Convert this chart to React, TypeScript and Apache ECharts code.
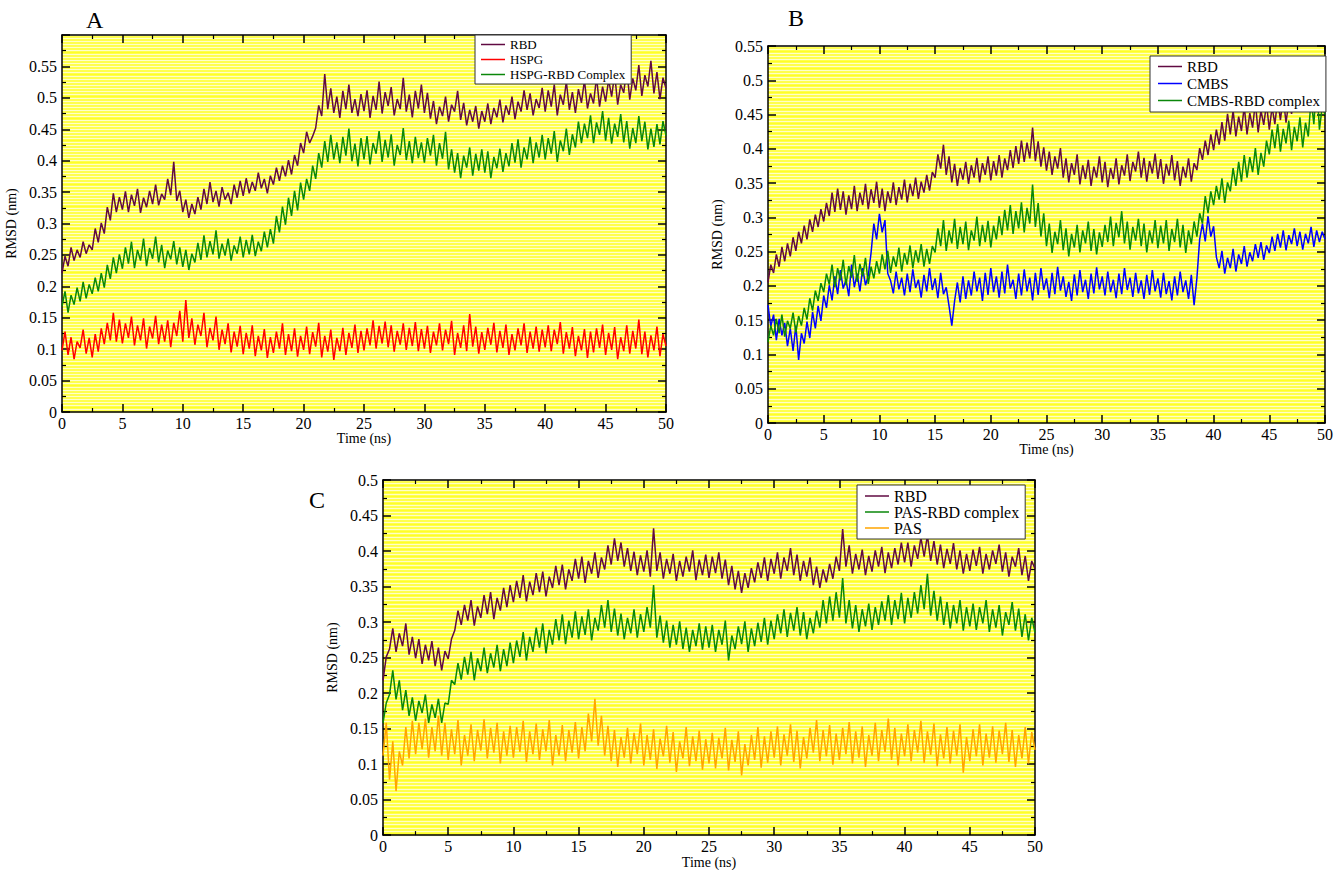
import React, { useEffect, useRef } from "react";
import * as echarts from "echarts";

// time axis: 0..50 ns every 0.25 ns
const timeNs: number[] = Array.from({ length: 201 }, (_, i) => i * 0.25);

// Panel A
const aRBD = [
  0.221, 0.248, 0.232, 0.262, 0.241, 0.258, 0.246, 0.271, 0.252, 0.266, 0.258, 0.292, 0.270, 0.301, 0.284, 0.326, 0.305, 0.348, 0.318, 0.342,
  0.322, 0.351, 0.318, 0.346, 0.328, 0.355, 0.317, 0.341, 0.326, 0.352, 0.331, 0.362, 0.329, 0.347, 0.338, 0.371, 0.345, 0.398, 0.336, 0.352,
  0.318, 0.338, 0.309, 0.331, 0.315, 0.342, 0.322, 0.355, 0.331, 0.366, 0.334, 0.352, 0.327, 0.358, 0.338, 0.349, 0.331, 0.362, 0.341, 0.368,
  0.344, 0.372, 0.348, 0.366, 0.352, 0.381, 0.356, 0.371, 0.348, 0.376, 0.362, 0.389, 0.368, 0.392, 0.375, 0.401, 0.378, 0.409, 0.392, 0.428,
  0.412, 0.446, 0.428, 0.439, 0.452, 0.488, 0.471, 0.538, 0.482, 0.515, 0.476, 0.502, 0.468, 0.511, 0.482, 0.521, 0.476, 0.498, 0.471, 0.506,
  0.479, 0.512, 0.468, 0.503, 0.481, 0.526, 0.475, 0.509, 0.487, 0.517, 0.472, 0.498, 0.482, 0.532, 0.478, 0.505, 0.469, 0.511, 0.483, 0.521,
  0.476, 0.508, 0.467, 0.495, 0.458, 0.486, 0.471, 0.502, 0.462, 0.489, 0.478, 0.511, 0.465, 0.492, 0.456, 0.481, 0.462, 0.487, 0.451, 0.479,
  0.462, 0.491, 0.458, 0.484, 0.469, 0.497, 0.461, 0.488, 0.473, 0.502, 0.466, 0.494, 0.478, 0.512, 0.481, 0.507, 0.472, 0.498, 0.484, 0.516,
  0.478, 0.512, 0.486, 0.521, 0.472, 0.505, 0.489, 0.526, 0.481, 0.509, 0.476, 0.514, 0.492, 0.528, 0.483, 0.507, 0.491, 0.533, 0.486, 0.518,
  0.494, 0.529, 0.502, 0.538, 0.489, 0.521, 0.508, 0.547, 0.497, 0.531, 0.512, 0.552, 0.503, 0.536, 0.518, 0.559, 0.507, 0.541, 0.498, 0.532,
  0.515,
];
const aHSPG = [
  0.098, 0.128, 0.091, 0.119, 0.084, 0.112, 0.102, 0.131, 0.093, 0.118, 0.087, 0.124, 0.096, 0.133, 0.108, 0.142, 0.114, 0.158, 0.112, 0.147,
  0.109, 0.141, 0.118, 0.152, 0.106, 0.138, 0.114, 0.149, 0.101, 0.136, 0.117, 0.153, 0.108, 0.139, 0.112, 0.146, 0.103, 0.142, 0.121, 0.161,
  0.112, 0.178, 0.118, 0.149, 0.107, 0.139, 0.121, 0.158, 0.103, 0.134, 0.114, 0.152, 0.099, 0.131, 0.108, 0.141, 0.095, 0.128, 0.104, 0.137,
  0.092, 0.126, 0.101, 0.138, 0.089, 0.121, 0.098, 0.132, 0.086, 0.119, 0.094, 0.128, 0.101, 0.141, 0.091, 0.124, 0.097, 0.133, 0.088, 0.121,
  0.099, 0.136, 0.092, 0.127, 0.104, 0.142, 0.087, 0.121, 0.096, 0.131, 0.083, 0.118, 0.097, 0.134, 0.091, 0.126, 0.102, 0.139, 0.094, 0.129,
  0.098, 0.133, 0.106, 0.146, 0.101, 0.137, 0.109, 0.144, 0.103, 0.138, 0.096, 0.129, 0.107, 0.141, 0.099, 0.134, 0.105, 0.143, 0.097, 0.132,
  0.101, 0.137, 0.094, 0.128, 0.106, 0.141, 0.098, 0.131, 0.108, 0.145, 0.091, 0.126, 0.102, 0.138, 0.097, 0.156, 0.104, 0.136, 0.093, 0.127,
  0.099, 0.134, 0.107, 0.142, 0.095, 0.129, 0.102, 0.139, 0.091, 0.124, 0.098, 0.133, 0.106, 0.141, 0.094, 0.128, 0.101, 0.136, 0.096, 0.131,
  0.103, 0.138, 0.097, 0.131, 0.108, 0.143, 0.093, 0.127, 0.101, 0.135, 0.089, 0.121, 0.098, 0.132, 0.086, 0.128, 0.095, 0.133, 0.102, 0.139,
  0.091, 0.126, 0.099, 0.135, 0.084, 0.119, 0.097, 0.138, 0.093, 0.129, 0.101, 0.147, 0.092, 0.128, 0.087, 0.122, 0.098, 0.136, 0.089, 0.124,
  0.105,
];
const aComplex = [
  0.168, 0.192, 0.158, 0.186, 0.171, 0.198, 0.176, 0.207, 0.181, 0.203, 0.188, 0.214, 0.192, 0.221, 0.198, 0.234, 0.212, 0.246, 0.221, 0.251,
  0.228, 0.262, 0.236, 0.271, 0.229, 0.258, 0.241, 0.276, 0.232, 0.261, 0.244, 0.279, 0.238, 0.266, 0.229, 0.257, 0.243, 0.272, 0.235, 0.262,
  0.231, 0.258, 0.226, 0.252, 0.238, 0.269, 0.242, 0.281, 0.246, 0.272, 0.251, 0.289, 0.244, 0.268, 0.249, 0.276, 0.241, 0.265, 0.252, 0.279,
  0.246, 0.274, 0.251, 0.282, 0.248, 0.271, 0.256, 0.287, 0.262, 0.291, 0.268, 0.312, 0.286, 0.327, 0.298, 0.341, 0.312, 0.352, 0.321, 0.365,
  0.338, 0.371, 0.352, 0.392, 0.371, 0.412, 0.389, 0.431, 0.398, 0.441, 0.402, 0.429, 0.396, 0.438, 0.408, 0.451, 0.399, 0.427, 0.391, 0.436,
  0.402, 0.439, 0.394, 0.428, 0.411, 0.447, 0.398, 0.433, 0.405, 0.442, 0.392, 0.425, 0.409, 0.452, 0.401, 0.431, 0.396, 0.438, 0.404, 0.429,
  0.397, 0.436, 0.408, 0.441, 0.392, 0.428, 0.403, 0.446, 0.386, 0.418, 0.381, 0.412, 0.372, 0.408, 0.389, 0.421, 0.376, 0.411, 0.384, 0.418,
  0.381, 0.415, 0.372, 0.406, 0.388, 0.419, 0.382, 0.412, 0.391, 0.428, 0.397, 0.434, 0.389, 0.421, 0.402, 0.438, 0.396, 0.429, 0.405, 0.441,
  0.402, 0.436, 0.411, 0.447, 0.398, 0.432, 0.415, 0.451, 0.409, 0.442, 0.421, 0.462, 0.428, 0.459, 0.436, 0.472, 0.428, 0.461, 0.441, 0.479,
  0.432, 0.468, 0.427, 0.459, 0.438, 0.474, 0.429, 0.463, 0.419, 0.452, 0.428, 0.471, 0.431, 0.462, 0.418, 0.451, 0.422, 0.458, 0.426, 0.463,
  0.44,
];

// Panel B
const bRBD = [
  0.205, 0.231, 0.219, 0.246, 0.228, 0.257, 0.236, 0.262, 0.243, 0.271, 0.251, 0.279, 0.262, 0.288, 0.268, 0.297, 0.279, 0.304, 0.286, 0.312,
  0.294, 0.321, 0.302, 0.336, 0.308, 0.342, 0.311, 0.338, 0.304, 0.332, 0.312, 0.346, 0.309, 0.336, 0.318, 0.349, 0.312, 0.341, 0.321, 0.352,
  0.314, 0.342, 0.309, 0.338, 0.321, 0.351, 0.318, 0.344, 0.326, 0.355, 0.322, 0.349, 0.331, 0.358, 0.327, 0.352, 0.336, 0.362, 0.339, 0.366,
  0.358, 0.392, 0.371, 0.406, 0.362, 0.389, 0.351, 0.378, 0.346, 0.372, 0.355, 0.381, 0.349, 0.376, 0.358, 0.387, 0.351, 0.379, 0.362, 0.389,
  0.354, 0.382, 0.361, 0.391, 0.358, 0.386, 0.369, 0.398, 0.372, 0.404, 0.378, 0.412, 0.381, 0.409, 0.386, 0.431, 0.382, 0.411, 0.374, 0.402,
  0.368, 0.396, 0.362, 0.389, 0.371, 0.401, 0.358, 0.386, 0.351, 0.379, 0.362, 0.392, 0.348, 0.376, 0.356, 0.384, 0.346, 0.374, 0.358, 0.389,
  0.351, 0.381, 0.344, 0.372, 0.356, 0.386, 0.348, 0.376, 0.361, 0.392, 0.353, 0.381, 0.367, 0.396, 0.358, 0.387, 0.352, 0.382, 0.364, 0.393,
  0.356, 0.385, 0.349, 0.378, 0.361, 0.391, 0.354, 0.382, 0.346, 0.374, 0.358, 0.386, 0.352, 0.379, 0.369, 0.401, 0.384, 0.412, 0.391, 0.421,
  0.398, 0.428, 0.406, 0.439, 0.412, 0.451, 0.421, 0.456, 0.418, 0.447, 0.426, 0.462, 0.421, 0.452, 0.431, 0.468, 0.424, 0.456, 0.435, 0.466,
  0.428, 0.461, 0.436, 0.472, 0.442, 0.476, 0.438, 0.469, 0.451, 0.486, 0.462, 0.498, 0.471, 0.509, 0.478, 0.518, 0.486, 0.531, 0.492, 0.526,
  0.505,
];
const bCMBS = [
  0.172, 0.141, 0.158, 0.121, 0.152, 0.128, 0.146, 0.112, 0.138, 0.105, 0.142, 0.092, 0.131, 0.116, 0.148, 0.124, 0.162, 0.138, 0.171, 0.149,
  0.186, 0.168, 0.201, 0.179, 0.214, 0.188, 0.223, 0.196, 0.209, 0.185, 0.231, 0.198, 0.218, 0.192, 0.226, 0.201, 0.215, 0.248, 0.291, 0.268,
  0.305, 0.278, 0.296, 0.218, 0.208, 0.189, 0.221, 0.195, 0.212, 0.186, 0.218, 0.191, 0.224, 0.197, 0.209, 0.183, 0.216, 0.192, 0.226, 0.194,
  0.211, 0.182, 0.219, 0.188, 0.198, 0.171, 0.142, 0.178, 0.205, 0.176, 0.214, 0.181, 0.208, 0.186, 0.221, 0.192, 0.212, 0.178, 0.219, 0.187,
  0.226, 0.191, 0.214, 0.183, 0.221, 0.189, 0.231, 0.196, 0.209, 0.181, 0.218, 0.186, 0.224, 0.192, 0.212, 0.179, 0.219, 0.187, 0.226, 0.194,
  0.211, 0.182, 0.219, 0.188, 0.228, 0.193, 0.214, 0.184, 0.206, 0.178, 0.217, 0.186, 0.223, 0.191, 0.209, 0.181, 0.218, 0.189, 0.227, 0.195,
  0.214, 0.186, 0.221, 0.191, 0.209, 0.182, 0.218, 0.188, 0.226, 0.194, 0.212, 0.184, 0.219, 0.189, 0.208, 0.181, 0.216, 0.187, 0.223, 0.192,
  0.211, 0.183, 0.219, 0.188, 0.207, 0.179, 0.214, 0.186, 0.221, 0.191, 0.208, 0.181, 0.216, 0.172, 0.211, 0.268, 0.291, 0.265, 0.302, 0.272,
  0.287, 0.242, 0.226, 0.251, 0.218, 0.241, 0.226, 0.254, 0.221, 0.246, 0.232, 0.258, 0.228, 0.249, 0.236, 0.261, 0.241, 0.264, 0.238, 0.259,
  0.248, 0.272, 0.251, 0.276, 0.256, 0.281, 0.252, 0.274, 0.261, 0.284, 0.258, 0.279, 0.253, 0.276, 0.262, 0.286, 0.257, 0.281, 0.264, 0.279,
  0.268,
];
const bComplex = [
  0.118, 0.142, 0.128, 0.152, 0.131, 0.158, 0.126, 0.149, 0.138, 0.161, 0.132, 0.156, 0.142, 0.168, 0.151, 0.182, 0.164, 0.193, 0.178, 0.204,
  0.191, 0.218, 0.202, 0.231, 0.198, 0.226, 0.208, 0.238, 0.201, 0.229, 0.212, 0.245, 0.206, 0.232, 0.214, 0.241, 0.203, 0.228, 0.211, 0.236,
  0.218, 0.246, 0.224, 0.251, 0.219, 0.243, 0.228, 0.256, 0.221, 0.248, 0.231, 0.259, 0.226, 0.252, 0.234, 0.261, 0.228, 0.254, 0.232, 0.258,
  0.249, 0.284, 0.258, 0.296, 0.251, 0.281, 0.262, 0.298, 0.254, 0.286, 0.261, 0.294, 0.252, 0.281, 0.266, 0.301, 0.258, 0.289, 0.264, 0.295,
  0.256, 0.288, 0.268, 0.302, 0.274, 0.311, 0.281, 0.318, 0.276, 0.309, 0.284, 0.322, 0.278, 0.314, 0.291, 0.348, 0.286, 0.321, 0.272, 0.306,
  0.258, 0.291, 0.248, 0.279, 0.261, 0.296, 0.252, 0.284, 0.243, 0.276, 0.256, 0.289, 0.249, 0.281, 0.262, 0.294, 0.251, 0.283, 0.246, 0.278,
  0.257, 0.289, 0.264, 0.301, 0.258, 0.292, 0.271, 0.309, 0.262, 0.294, 0.253, 0.286, 0.266, 0.298, 0.258, 0.291, 0.249, 0.281, 0.262, 0.296,
  0.255, 0.288, 0.262, 0.296, 0.251, 0.283, 0.264, 0.298, 0.256, 0.289, 0.248, 0.281, 0.261, 0.294, 0.272, 0.306, 0.291, 0.331, 0.306, 0.338,
  0.318, 0.346, 0.326, 0.357, 0.321, 0.351, 0.338, 0.372, 0.346, 0.381, 0.352, 0.391, 0.358, 0.388, 0.366, 0.401, 0.362, 0.394, 0.374, 0.412,
  0.392, 0.428, 0.401, 0.436, 0.396, 0.429, 0.408, 0.441, 0.398, 0.432, 0.411, 0.446, 0.402, 0.438, 0.418, 0.472, 0.436, 0.498, 0.428, 0.461,
  0.45,
];

// Panel C
const cRBD = [
  0.218, 0.251, 0.262, 0.291, 0.258, 0.284, 0.266, 0.298, 0.254, 0.279, 0.249, 0.276, 0.241, 0.268, 0.246, 0.273, 0.238, 0.264, 0.232, 0.259,
  0.248, 0.276, 0.288, 0.316, 0.296, 0.324, 0.302, 0.331, 0.295, 0.322, 0.306, 0.338, 0.311, 0.342, 0.304, 0.334, 0.316, 0.348, 0.321, 0.352,
  0.328, 0.358, 0.334, 0.366, 0.329, 0.357, 0.338, 0.369, 0.342, 0.371, 0.336, 0.364, 0.348, 0.379, 0.352, 0.381, 0.346, 0.374, 0.358, 0.389,
  0.361, 0.392, 0.355, 0.386, 0.368, 0.398, 0.362, 0.391, 0.374, 0.408, 0.381, 0.418, 0.386, 0.412, 0.378, 0.404, 0.372, 0.399, 0.366, 0.394,
  0.371, 0.401, 0.364, 0.432, 0.372, 0.398, 0.361, 0.389, 0.368, 0.396, 0.358, 0.386, 0.364, 0.392, 0.371, 0.401, 0.359, 0.388, 0.366, 0.395,
  0.362, 0.392, 0.369, 0.398, 0.361, 0.388, 0.352, 0.379, 0.346, 0.372, 0.341, 0.369, 0.348, 0.376, 0.356, 0.384, 0.362, 0.391, 0.358, 0.389,
  0.368, 0.398, 0.361, 0.391, 0.372, 0.404, 0.366, 0.395, 0.358, 0.386, 0.364, 0.391, 0.352, 0.378, 0.348, 0.374, 0.356, 0.382, 0.361, 0.392,
  0.372, 0.431, 0.378, 0.408, 0.368, 0.396, 0.374, 0.402, 0.366, 0.393, 0.371, 0.401, 0.378, 0.406, 0.369, 0.398, 0.376, 0.404, 0.381, 0.412,
  0.384, 0.412, 0.378, 0.408, 0.389, 0.419, 0.392, 0.422, 0.386, 0.414, 0.381, 0.409, 0.376, 0.403, 0.382, 0.411, 0.374, 0.401, 0.368, 0.396,
  0.372, 0.402, 0.379, 0.406, 0.368, 0.396, 0.374, 0.401, 0.382, 0.409, 0.371, 0.398, 0.364, 0.392, 0.378, 0.404, 0.366, 0.393, 0.358, 0.386,
  0.375,
];
const cComplex = [
  0.158, 0.186, 0.198, 0.232, 0.191, 0.218, 0.176, 0.204, 0.168, 0.194, 0.161, 0.189, 0.172, 0.198, 0.158, 0.184, 0.165, 0.192, 0.158, 0.186,
  0.184, 0.218, 0.212, 0.242, 0.219, 0.251, 0.226, 0.258, 0.218, 0.249, 0.231, 0.264, 0.228, 0.256, 0.236, 0.268, 0.231, 0.262, 0.238, 0.271,
  0.242, 0.274, 0.251, 0.286, 0.246, 0.279, 0.258, 0.292, 0.264, 0.298, 0.256, 0.289, 0.268, 0.304, 0.274, 0.311, 0.269, 0.302, 0.278, 0.315,
  0.276, 0.308, 0.282, 0.318, 0.274, 0.306, 0.288, 0.324, 0.292, 0.331, 0.286, 0.319, 0.281, 0.312, 0.276, 0.306, 0.284, 0.318, 0.278, 0.311,
  0.286, 0.321, 0.292, 0.352, 0.278, 0.309, 0.271, 0.302, 0.264, 0.296, 0.268, 0.301, 0.262, 0.292, 0.258, 0.289, 0.266, 0.298, 0.261, 0.294,
  0.264, 0.296, 0.258, 0.289, 0.268, 0.302, 0.246, 0.281, 0.262, 0.294, 0.269, 0.301, 0.258, 0.291, 0.266, 0.299, 0.272, 0.306, 0.268, 0.302,
  0.276, 0.311, 0.284, 0.318, 0.279, 0.313, 0.288, 0.321, 0.281, 0.314, 0.276, 0.306, 0.284, 0.316, 0.292, 0.331, 0.298, 0.336, 0.302, 0.342,
  0.306, 0.362, 0.298, 0.331, 0.291, 0.324, 0.286, 0.318, 0.294, 0.326, 0.289, 0.321, 0.296, 0.329, 0.302, 0.338, 0.296, 0.331, 0.304, 0.341,
  0.298, 0.334, 0.306, 0.342, 0.312, 0.352, 0.318, 0.368, 0.309, 0.344, 0.302, 0.336, 0.296, 0.328, 0.291, 0.324, 0.298, 0.331, 0.288, 0.321,
  0.294, 0.326, 0.289, 0.321, 0.298, 0.331, 0.286, 0.318, 0.292, 0.324, 0.281, 0.314, 0.296, 0.328, 0.288, 0.319, 0.279, 0.311, 0.274, 0.306,
  0.285,
];
const cPAS = [
  0.112, 0.158, 0.078, 0.132, 0.062, 0.118, 0.098, 0.152, 0.108, 0.161, 0.114, 0.158, 0.121, 0.164, 0.109, 0.152, 0.118, 0.168, 0.112, 0.158,
  0.106, 0.149, 0.114, 0.162, 0.098, 0.141, 0.112, 0.156, 0.104, 0.148, 0.119, 0.163, 0.108, 0.151, 0.116, 0.158, 0.101, 0.146, 0.112, 0.154,
  0.109, 0.152, 0.117, 0.161, 0.103, 0.146, 0.114, 0.157, 0.106, 0.149, 0.118, 0.162, 0.098, 0.141, 0.112, 0.155, 0.104, 0.148, 0.116, 0.159,
  0.108, 0.152, 0.118, 0.171, 0.132, 0.192, 0.126, 0.168, 0.112, 0.154, 0.104, 0.148, 0.096, 0.138, 0.109, 0.151, 0.101, 0.144, 0.114, 0.157,
  0.098, 0.141, 0.106, 0.149, 0.093, 0.136, 0.111, 0.154, 0.102, 0.145, 0.089, 0.132, 0.108, 0.152, 0.097, 0.139, 0.104, 0.147, 0.092, 0.135,
  0.101, 0.144, 0.094, 0.137, 0.108, 0.151, 0.091, 0.134, 0.103, 0.146, 0.084, 0.128, 0.098, 0.141, 0.106, 0.152, 0.095, 0.139, 0.102, 0.146,
  0.109, 0.153, 0.098, 0.142, 0.112, 0.156, 0.103, 0.147, 0.094, 0.138, 0.108, 0.151, 0.116, 0.162, 0.104, 0.148, 0.111, 0.155, 0.099, 0.143,
  0.106, 0.151, 0.114, 0.159, 0.101, 0.146, 0.109, 0.153, 0.096, 0.141, 0.112, 0.158, 0.104, 0.148, 0.117, 0.164, 0.106, 0.151, 0.098, 0.143,
  0.111, 0.156, 0.104, 0.148, 0.116, 0.161, 0.102, 0.146, 0.113, 0.157, 0.097, 0.142, 0.108, 0.152, 0.101, 0.147, 0.112, 0.156, 0.088, 0.138,
  0.104, 0.149, 0.111, 0.156, 0.098, 0.143, 0.109, 0.153, 0.102, 0.147, 0.114, 0.158, 0.103, 0.148, 0.096, 0.141, 0.108, 0.152, 0.101, 0.145,
  0.12,
];

const panelLetters = ["A", "B", "C"];
const yMaxes = [0.6, 0.55, 0.5];
const legendA = ["RBD", "HSPG", "HSPG-RBD Complex"];
const legendB = ["RBD", "CMBS", "CMBS-RBD complex"];
const legendC = ["RBD", "PAS-RBD complex", "PAS"];

const FONT = "Liberation Serif, Times New Roman, serif";
const C_RBD = "#600a42";
const C_GREEN = "#0a870a";
const C_RED = "#ff0000";
const C_BLUE = "#0000ff";
const C_ORANGE = "#ffa500";

const grids = [
  { left: 62, top: 35, width: 604, height: 377 },
  { left: 768, top: 46, width: 560, height: 377 },
  { left: 383, top: 480, width: 652, height: 360 },
];

export default function App() {
  const ref = useRef<HTMLDivElement>(null);
  useEffect(() => {
    if (!ref.current) return;
    const chart = echarts.init(ref.current, undefined, { renderer: "svg" });
    const xAxes: any[] = [];
    const yAxes: any[] = [];
    grids.forEach((g, i) => {
      xAxes.push({
        type: "value", gridIndex: i, position: "bottom", min: 0, max: 50, interval: 5,
        name: "Time (ns)", nameLocation: "middle", nameGap: 18,
        nameTextStyle: { fontFamily: FONT, fontSize: 14, color: "#000" },
        axisLine: { show: true, onZero: false, lineStyle: { color: "#000", width: 1.5 } },
        axisTick: { show: true, inside: true, length: 8, lineStyle: { color: "#000", width: 1.5 } },
        minorTick: { show: true, splitNumber: 2, length: 4, lineStyle: { color: "#000", width: 1.2 } },
        axisLabel: { fontFamily: FONT, fontSize: 16, color: "#000", margin: 3 },
        splitLine: { show: false },
      });
      xAxes.push({
        type: "value", gridIndex: i, position: "top", min: 0, max: 50, interval: 5,
        axisLine: { show: true, onZero: false, lineStyle: { color: "#000", width: 1.5 } },
        axisTick: { show: true, inside: true, length: 8, lineStyle: { color: "#000", width: 1.5 } },
        minorTick: { show: true, splitNumber: 2, length: 4, lineStyle: { color: "#000", width: 1.2 } },
        axisLabel: { show: false },
        splitLine: { show: false },
      });
      yAxes.push({
        type: "value", gridIndex: i, position: "left", min: 0, max: yMaxes[i], interval: 0.05,
        name: "RMSD (nm)", nameLocation: "middle", nameGap: 44, nameRotate: 90,
        nameTextStyle: { fontFamily: FONT, fontSize: 14, color: "#000" },
        axisLine: { show: true, onZero: false, lineStyle: { color: "#000", width: 1.5 } },
        axisTick: { show: true, inside: true, length: 8, lineStyle: { color: "#000", width: 1.5 } },
        minorTick: { show: true, splitNumber: 2, length: 4, lineStyle: { color: "#000", width: 1.2 } },
        axisLabel: {
          fontFamily: FONT, fontSize: 16, color: "#000", margin: 5,
          formatter: (v: number) => (i === 0 && v > 0.58 ? "" : String(Math.round(v * 100) / 100)),
        },
        splitLine: { show: false },
      });
      yAxes.push({
        type: "value", gridIndex: i, position: "right", min: 0, max: yMaxes[i], interval: 0.05,
        axisLine: { show: true, onZero: false, lineStyle: { color: "#000", width: 1.5 } },
        axisTick: { show: true, inside: true, length: 8, lineStyle: { color: "#000", width: 1.5 } },
        minorTick: { show: true, splitNumber: 2, length: 4, lineStyle: { color: "#000", width: 1.2 } },
        axisLabel: { show: false },
        splitLine: { show: false },
      });
      // stripes
      yAxes.push({
        type: "value", gridIndex: i, position: "left", min: 0, max: yMaxes[i], interval: 0.005,
        axisLine: { show: false }, axisTick: { show: false }, axisLabel: { show: false },
        splitLine: { show: true, lineStyle: { color: "#ffffc8", width: 1.4 } },
      });
    });

    const mk = (name: string, vals: number[], gi: number, color: string) => ({
      type: "line", name, xAxisIndex: gi * 2, yAxisIndex: gi * 3,
      data: vals.map((v, k) => [timeNs[k], v]),
      showSymbol: false, symbol: "none", silent: true,
      lineStyle: { color, width: 1.5 }, itemStyle: { color },
    });

    const legendBase = {
      orient: "vertical", backgroundColor: "#fff", borderColor: "#333", borderWidth: 1,
      icon: "rect", itemWidth: 24, itemHeight: 1.5, align: "left", selectedMode: false,
    };

    chart.setOption({
      animation: false,
      backgroundColor: "#fff",
      grid: grids.map((g) => ({ ...g, show: true, backgroundColor: "#ffff26", borderWidth: 0, containLabel: false })),
      xAxis: xAxes,
      yAxis: yAxes,
      legend: [
        { ...legendBase, data: legendA, left: 475, top: 35, itemGap: 2, padding: [3, 6, 3, 6], textStyle: { fontFamily: FONT, fontSize: 13, color: "#000" } },
        { ...legendBase, data: legendB, left: 1150, top: 56, itemGap: 2, padding: [3, 6, 4, 8], textStyle: { fontFamily: FONT, fontSize: 15, color: "#000" } },
        { ...legendBase, data: legendC, left: 857, top: 485, itemGap: 0, padding: [3, 6, 3, 8], textStyle: { fontFamily: FONT, fontSize: 16, color: "#000" } },
      ],
      graphic: [
        { type: "text", left: 86, top: 8, style: { text: panelLetters[0], font: `24px ${FONT}`, fill: "#000" } },
        { type: "text", left: 788, top: 6, style: { text: panelLetters[1], font: `24px ${FONT}`, fill: "#000" } },
        { type: "text", left: 309, top: 488, style: { text: panelLetters[2], font: `24px ${FONT}`, fill: "#000" } },
      ],
      series: [
        mk("HSPG", aHSPG, 0, C_RED),
        mk("HSPG-RBD Complex", aComplex, 0, C_GREEN),
        mk("RBD", aRBD, 0, C_RBD),
        mk("CMBS", bCMBS, 1, C_BLUE),
        mk("CMBS-RBD complex", bComplex, 1, C_GREEN),
        mk("RBD", bRBD, 1, C_RBD),
        mk("PAS", cPAS, 2, C_ORANGE),
        mk("PAS-RBD complex", cComplex, 2, C_GREEN),
        mk("RBD", cRBD, 2, C_RBD),
      ],
    });
    return () => chart.dispose();
  }, []);
  return (
    <div
      ref={ref}
      style={{ position: "absolute", left: 0, top: 0, width: 1336, height: 870 }}
    />
  );
}
